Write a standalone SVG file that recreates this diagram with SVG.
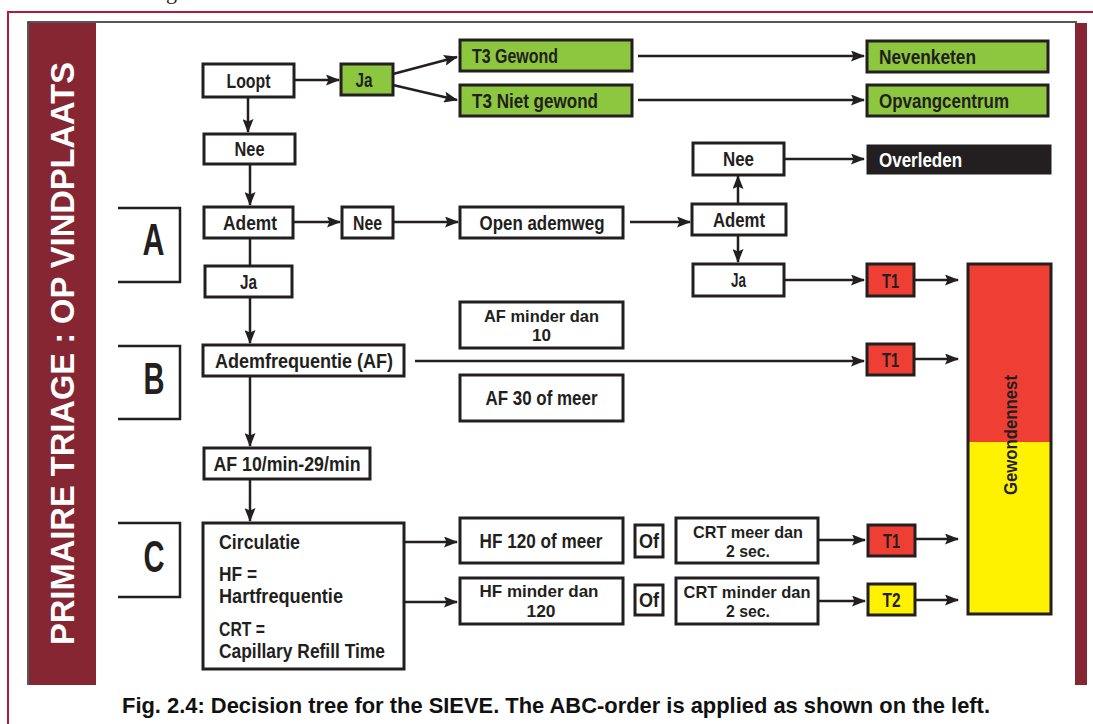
<svg xmlns="http://www.w3.org/2000/svg" width="1093" height="724" viewBox="0 0 1093 724">
  <style>
    .box { fill: #ffffff; stroke: #231f20; stroke-width: 3; }
    .green { fill: #8dc63f; stroke: #231f20; stroke-width: 3; }
    .red { fill: #ef3e33; stroke: #231f20; stroke-width: 3; }
    .yellow { fill: #fff200; stroke: #231f20; stroke-width: 3; }
    .dark { fill: #231f20; stroke: #231f20; stroke-width: 1; }
    .t { font-family: "Liberation Sans", Arial, sans-serif; font-weight: bold; font-size: 20px; fill: #231f20; text-anchor: middle; }
    .s { font-size: 17px; }
    .l { text-anchor: start; }
    .w { fill: #ffffff; }
    .big { font-size: 45px; }
    .band { fill: #862633; }
    .conn path { fill: none; stroke: #231f20; stroke-width: 2.5; }
    .bracket { fill: none; stroke: #231f20; stroke-width: 2.5; }
  </style>
  <defs>
    <marker id="head" markerUnits="userSpaceOnUse" viewBox="0 0 14 11" markerWidth="14" markerHeight="11" refX="13" refY="5.5" orient="auto">
      <path d="M0,0 L14,5.5 L0,11 L2.5,5.5 z" fill="#231f20"/>
    </marker>
  </defs>

  <rect x="0" y="0" width="1093" height="724" fill="#ffffff"/>

  <!-- text cut off by the page edge above the frame -->
  <text x="166" y="-1" font-family="Liberation Serif, serif" font-size="22" fill="#231f20">g</text>

  <!-- page frame -->
  <path d="M8,724 V12 H1093" fill="none" stroke="#b5173d" stroke-width="2"/>
  <path d="M28,685 V22 H1077" fill="none" stroke="#231f20" stroke-width="1.5"/>
  <rect class="band" x="29" y="23" width="67" height="662"/>
  <rect class="band" x="1075" y="23" width="12" height="662"/>
  <text class="t w" transform="translate(74,645) rotate(-90)" x="0" y="0" style="font-size:33px;text-anchor:start" textLength="583" lengthAdjust="spacingAndGlyphs">PRIMAIRE TRIAGE : OP VINDPLAATS</text>

  <!-- ABC brackets -->
  <g id="bracket-a">
    <path class="bracket" d="M118,208 H180 V282 H118"/>
    <text class="t big" x="153.5" y="255" textLength="22" lengthAdjust="spacingAndGlyphs">A</text>
  </g>
  <g id="bracket-b">
    <path class="bracket" d="M118,346 H180 V419 H118"/>
    <text class="t big" x="154" y="394" textLength="21" lengthAdjust="spacingAndGlyphs">B</text>
  </g>
  <g id="bracket-c">
    <path class="bracket" d="M118,523 H180 V597 H118"/>
    <text class="t big" x="154" y="572" textLength="21" lengthAdjust="spacingAndGlyphs">C</text>
  </g>

  <!-- connectors -->
  <g id="connectors" class="conn">
    <path d="M294,80 H339" marker-end="url(#head)"/>
    <path d="M393,74 L457,57" marker-end="url(#head)"/>
    <path d="M393,85 L457,100" marker-end="url(#head)"/>
    <path d="M638,56 H864" marker-end="url(#head)"/>
    <path d="M638,100 H864" marker-end="url(#head)"/>
    <path d="M248,97 V132" marker-end="url(#head)"/>
    <path d="M250,164 V205" marker-end="url(#head)"/>
    <path d="M250,238 V266"/>
    <path d="M293,222 H340" marker-end="url(#head)"/>
    <path d="M393,222 H458" marker-end="url(#head)"/>
    <path d="M630,222 H690" marker-end="url(#head)"/>
    <path d="M738,204 V176" marker-end="url(#head)"/>
    <path d="M738,235 V262" marker-end="url(#head)"/>
    <path d="M784,159 H864" marker-end="url(#head)"/>
    <path d="M784,280 H864" marker-end="url(#head)"/>
    <path d="M914,280 H958" marker-end="url(#head)"/>
    <path d="M250,297 V343" marker-end="url(#head)"/>
    <path d="M415,361 H864" marker-end="url(#head)"/>
    <path d="M914,359 H958" marker-end="url(#head)"/>
    <path d="M250,376 V446" marker-end="url(#head)"/>
    <path d="M250,479 V521" marker-end="url(#head)"/>
    <path d="M404,542 H457" marker-end="url(#head)"/>
    <path d="M404,602 H457" marker-end="url(#head)"/>
    <path d="M818,540 H865" marker-end="url(#head)"/>
    <path d="M818,601 H865" marker-end="url(#head)"/>
    <path d="M915,539 H958" marker-end="url(#head)"/>
    <path d="M915,600 H958" marker-end="url(#head)"/>
  </g>

  <!-- nodes -->
  <g id="loopt">
    <rect class="box" x="203" y="64" width="91" height="33"/>
    <text class="t" x="248.5" y="87.5" textLength="44" lengthAdjust="spacingAndGlyphs">Loopt</text>
  </g>
  <g id="loopt-ja">
    <rect class="green" x="341" y="64" width="52" height="31"/>
    <text class="t" x="364" y="86.5" textLength="17" lengthAdjust="spacingAndGlyphs">Ja</text>
  </g>
  <g id="t3-gewond">
    <rect class="green" x="460" y="40" width="172" height="31"/>
    <text class="t l" x="472" y="62.5" textLength="86" lengthAdjust="spacingAndGlyphs">T3 Gewond</text>
  </g>
  <g id="t3-niet-gewond">
    <rect class="green" x="460" y="85" width="172" height="31"/>
    <text class="t l" x="472" y="107.5" textLength="126" lengthAdjust="spacingAndGlyphs">T3 Niet gewond</text>
  </g>
  <g id="nevenketen">
    <rect class="green" x="867" y="41" width="181" height="31"/>
    <text class="t l" x="879" y="63.5" textLength="97" lengthAdjust="spacingAndGlyphs">Nevenketen</text>
  </g>
  <g id="opvangcentrum">
    <rect class="green" x="867" y="85" width="181" height="31"/>
    <text class="t l" x="879" y="107.5" textLength="130" lengthAdjust="spacingAndGlyphs">Opvangcentrum</text>
  </g>
  <g id="loopt-nee">
    <rect class="box" x="204" y="134" width="91" height="30"/>
    <text class="t" x="249.5" y="156" textLength="30" lengthAdjust="spacingAndGlyphs">Nee</text>
  </g>
  <g id="ademt">
    <rect class="box" x="204" y="207" width="89" height="31"/>
    <text class="t" x="250" y="229.5" textLength="54" lengthAdjust="spacingAndGlyphs">Ademt</text>
  </g>
  <g id="ademt-ja">
    <rect class="box" x="205" y="266" width="87" height="31"/>
    <text class="t" x="248.5" y="288.5" textLength="17" lengthAdjust="spacingAndGlyphs">Ja</text>
  </g>
  <g id="ademt-nee">
    <rect class="box" x="342" y="207" width="51" height="31"/>
    <text class="t" x="367.5" y="229.5" textLength="29" lengthAdjust="spacingAndGlyphs">Nee</text>
  </g>
  <g id="open-ademweg">
    <rect class="box" x="460" y="207" width="163" height="31"/>
    <text class="t" x="542" y="229.5" textLength="125" lengthAdjust="spacingAndGlyphs">Open ademweg</text>
  </g>
  <g id="ademt-2">
    <rect class="box" x="692" y="204" width="94" height="31"/>
    <text class="t" x="739" y="226.5" textLength="52" lengthAdjust="spacingAndGlyphs">Ademt</text>
  </g>
  <g id="ademt-2-nee">
    <rect class="box" x="693" y="143" width="91" height="32"/>
    <text class="t" x="738.5" y="166" textLength="31" lengthAdjust="spacingAndGlyphs">Nee</text>
  </g>
  <g id="overleden">
    <rect class="dark" x="867" y="145" width="184" height="29"/>
    <text class="t l w" x="879" y="166.5" textLength="83" lengthAdjust="spacingAndGlyphs">Overleden</text>
  </g>
  <g id="ademt-2-ja">
    <rect class="box" x="693" y="264" width="91" height="32"/>
    <text class="t" x="738.5" y="287" textLength="15" lengthAdjust="spacingAndGlyphs">Ja</text>
  </g>
  <g id="t1-a">
    <rect class="red" x="867" y="264" width="47" height="32"/>
    <text class="t" x="890.5" y="287.5" textLength="17" lengthAdjust="spacingAndGlyphs">T1</text>
  </g>
  <g id="gewondennest">
    <rect x="968" y="264" width="83" height="178" fill="#ef3e33"/>
    <rect x="968" y="442" width="83" height="172" fill="#fff200"/>
    <rect x="968" y="264" width="83" height="350" fill="none" stroke="#231f20" stroke-width="3"/>
    <text class="t" transform="translate(1017,435) rotate(-90)" x="0" y="0" style="font-size:18px" textLength="120" lengthAdjust="spacingAndGlyphs">Gewondennest</text>
  </g>
  <g id="ademfrequentie">
    <rect class="box" x="203" y="345" width="201" height="31"/>
    <text class="t" x="304" y="367.5" textLength="178" lengthAdjust="spacingAndGlyphs">Ademfrequentie (AF)</text>
  </g>
  <g id="af-minder-10">
    <rect class="box" x="460" y="302" width="163" height="46"/>
    <text class="t s" x="541.5" y="322" textLength="115" lengthAdjust="spacingAndGlyphs">AF minder dan</text>
    <text class="t s" x="541.5" y="341" textLength="19" lengthAdjust="spacingAndGlyphs">10</text>
  </g>
  <g id="af-30-meer">
    <rect class="box" x="460" y="375" width="163" height="46"/>
    <text class="t" x="541.5" y="405" textLength="112" lengthAdjust="spacingAndGlyphs">AF 30 of meer</text>
  </g>
  <g id="t1-b">
    <rect class="red" x="867" y="344" width="47" height="31"/>
    <text class="t" x="890.5" y="366.5" textLength="17" lengthAdjust="spacingAndGlyphs">T1</text>
  </g>
  <g id="af-10-29">
    <rect class="box" x="204" y="448" width="166" height="31"/>
    <text class="t" x="287" y="470.5" textLength="147" lengthAdjust="spacingAndGlyphs">AF 10/min-29/min</text>
  </g>
  <g id="circulatie">
    <rect class="box" x="203" y="523" width="201" height="146"/>
    <text class="t l" x="219" y="549" textLength="81" lengthAdjust="spacingAndGlyphs">Circulatie</text>
    <text class="t l" x="219" y="581" textLength="38" lengthAdjust="spacingAndGlyphs">HF =</text>
    <text class="t l" x="219" y="603" textLength="124" lengthAdjust="spacingAndGlyphs">Hartfrequentie</text>
    <text class="t l" x="219" y="636" textLength="46" lengthAdjust="spacingAndGlyphs">CRT =</text>
    <text class="t l" x="219" y="658" textLength="166" lengthAdjust="spacingAndGlyphs">Capillary Refill Time</text>
  </g>
  <g id="hf-120-meer">
    <rect class="box" x="460" y="518" width="163" height="45"/>
    <text class="t" x="541" y="548" textLength="123" lengthAdjust="spacingAndGlyphs">HF 120 of meer</text>
  </g>
  <g id="hf-minder-120">
    <rect class="box" x="460" y="578" width="163" height="46"/>
    <text class="t s" x="539" y="597" textLength="119" lengthAdjust="spacingAndGlyphs">HF minder dan</text>
    <text class="t s" x="541" y="617" textLength="29" lengthAdjust="spacingAndGlyphs">120</text>
  </g>
  <g id="of-1">
    <rect class="box" x="635" y="525" width="28" height="32"/>
    <text class="t" x="649" y="548" textLength="20" lengthAdjust="spacingAndGlyphs">Of</text>
  </g>
  <g id="of-2">
    <rect class="box" x="635" y="585" width="28" height="30"/>
    <text class="t" x="649" y="607" textLength="20" lengthAdjust="spacingAndGlyphs">Of</text>
  </g>
  <g id="crt-meer-2">
    <rect class="box" x="676" y="518" width="142" height="45"/>
    <text class="t s" x="748" y="538" textLength="110" lengthAdjust="spacingAndGlyphs">CRT meer dan</text>
    <text class="t s" x="748" y="557" textLength="44" lengthAdjust="spacingAndGlyphs">2 sec.</text>
  </g>
  <g id="crt-minder-2">
    <rect class="box" x="676" y="578" width="142" height="46"/>
    <text class="t s" x="747" y="598" textLength="127" lengthAdjust="spacingAndGlyphs">CRT minder dan</text>
    <text class="t s" x="748" y="617" textLength="44" lengthAdjust="spacingAndGlyphs">2 sec.</text>
  </g>
  <g id="t1-c">
    <rect class="red" x="868" y="525" width="47" height="31"/>
    <text class="t" x="891.5" y="547.5" textLength="17" lengthAdjust="spacingAndGlyphs">T1</text>
  </g>
  <g id="t2">
    <rect class="yellow" x="868" y="584" width="47" height="31"/>
    <text class="t" x="891.5" y="607" textLength="18" lengthAdjust="spacingAndGlyphs">T2</text>
  </g>

  <!-- caption -->
  <text class="t" x="556" y="713" style="font-size:22px;fill:#111111" textLength="868" lengthAdjust="spacingAndGlyphs">Fig. 2.4: Decision tree for the SIEVE. The ABC-order is applied as shown on the left.</text>
</svg>
